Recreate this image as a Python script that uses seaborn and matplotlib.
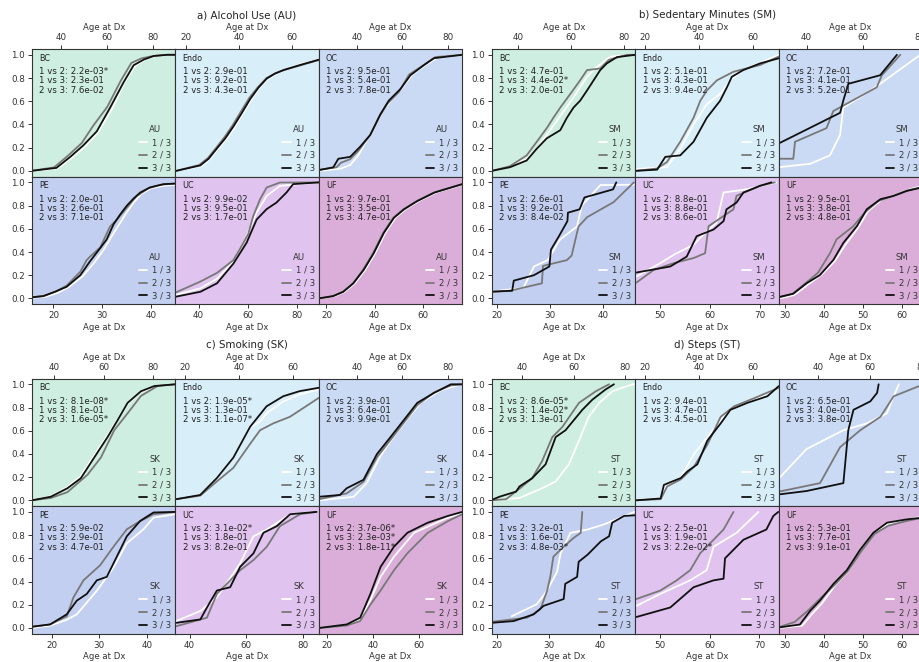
import matplotlib
matplotlib.use("Agg")
import matplotlib.pyplot as plt
import pandas as pd
import seaborn as sns
from matplotlib.ticker import MultipleLocator

sns.set_style("ticks")
plt.rcParams["font.family"] = ["DejaVu Sans"]

CANCERS = ["BC", "Endo", "OC", "PE", "UC", "UF"]
LEVELS = ["1 / 3", "2 / 3", "3 / 3"]
FACTOR_CODES = ["AU", "SM", "SK", "ST"]
FACTOR_TITLES = ["a) Alcohol Use (AU)", "b) Sedentary Minutes (SM)",
                 "c) Smoking (SK)", "d) Steps (ST)"]
COMPARISONS = ["1 vs 2", "1 vs 3", "2 vs 3"]

# pairwise test p-values, one row per cancer in CANCERS order
AU_PVALS = [["2.2e-03*", "2.3e-01", "7.6e-02"], ["2.9e-01", "9.2e-01", "4.3e-01"],
            ["9.5e-01", "5.4e-01", "7.8e-01"], ["2.0e-01", "2.6e-01", "7.1e-01"],
            ["9.9e-02", "9.5e-01", "1.7e-01"], ["9.7e-01", "3.5e-01", "4.7e-01"]]
SM_PVALS = [["4.7e-01", "4.4e-02*", "2.0e-01"], ["5.1e-01", "4.3e-01", "9.4e-02"],
            ["7.2e-01", "4.1e-01", "5.2e-01"], ["2.6e-01", "9.2e-01", "8.4e-02"],
            ["8.8e-01", "8.8e-01", "8.6e-01"], ["9.5e-01", "3.8e-01", "4.8e-01"]]
SK_PVALS = [["8.1e-08*", "8.1e-01", "1.6e-05*"], ["1.9e-05*", "1.3e-01", "1.1e-07*"],
            ["3.9e-01", "6.4e-01", "9.9e-01"], ["5.9e-02", "2.9e-01", "4.7e-01"],
            ["3.1e-02*", "1.8e-01", "8.2e-01"], ["3.7e-06*", "2.3e-03*", "1.8e-11*"]]
ST_PVALS = [["8.6e-05*", "1.4e-02*", "1.3e-01"], ["9.4e-01", "4.7e-01", "4.5e-01"],
            ["6.5e-01", "4.0e-01", "3.8e-01"], ["3.2e-01", "1.6e-01", "4.8e-03*"],
            ["2.5e-01", "1.9e-01", "2.2e-02*"], ["5.3e-01", "7.7e-01", "9.1e-01"]]

# cumulative distributions of age at diagnosis: [tertile 1, tertile 2, tertile 3]
AU_BC_AGE = [[27.4, 38.5, 44.5, 50.5, 56.0, 62.0, 67.5, 72.0, 76.5, 81.0, 87.0, 90.0],
             [27.4, 37.0, 43.0, 49.0, 54.0, 60.0, 66.0, 70.5, 75.0, 80.0, 86.0, 90.0],
             [27.4, 38.0, 44.0, 49.7, 55.5, 61.3, 67.2, 71.5, 76.0, 80.3, 86.0, 90.0]]
AU_BC_CDF = [[0.0, 0.02, 0.11, 0.21, 0.33, 0.53, 0.76, 0.90, 0.96, 0.99, 1.0, 1.0],
             [0.0, 0.03, 0.13, 0.24, 0.39, 0.55, 0.78, 0.93, 0.97, 0.99, 1.0, 1.0],
             [0.0, 0.025, 0.12, 0.22, 0.34, 0.545, 0.765, 0.91, 0.96, 0.99, 1.0, 1.0]]
AU_ENDO_AGE = [[16.4, 25.8, 29.0, 32.0, 35.2, 38.4, 41.5, 44.6, 47.7, 50.9, 54.0, 57.0, 63.0, 70.3],
               [16.4, 25.0, 28.3, 31.5, 34.6, 37.6, 40.8, 44.0, 47.2, 50.5, 53.8, 57.2, 63.5, 70.3],
               [16.4, 25.4, 28.6, 31.7, 34.9, 38.0, 41.2, 44.3, 47.4, 50.6, 53.7, 56.9, 63.2, 70.3]]
AU_ENDO_CDF = [[0.0, 0.04, 0.10, 0.185, 0.27, 0.375, 0.49, 0.61, 0.71, 0.79, 0.835, 0.868, 0.915, 0.96],
               [0.0, 0.05, 0.11, 0.20, 0.29, 0.39, 0.51, 0.63, 0.72, 0.80, 0.84, 0.87, 0.91, 0.955],
               [0.0, 0.046, 0.104, 0.192, 0.28, 0.383, 0.50, 0.618, 0.715, 0.795, 0.838, 0.868, 0.912, 0.958]]
AU_OC_AGE = [[23.6, 33.0, 37.0, 40.5, 44.0, 48.0, 52.0, 56.0, 60.0, 64.5, 70.0, 76.0, 86.4],
             [23.6, 31.0, 33.0, 37.0, 41.0, 45.5, 50.0, 53.5, 58.5, 63.0, 68.5, 74.5, 86.4],
             [23.6, 29.6, 31.8, 37.0, 41.4, 45.9, 50.3, 54.0, 59.2, 63.6, 69.6, 74.0, 86.4]]
AU_OC_CDF = [[0.0, 0.02, 0.05, 0.13, 0.25, 0.40, 0.53, 0.63, 0.72, 0.83, 0.91, 0.98, 1.0],
             [0.01, 0.03, 0.07, 0.10, 0.18, 0.30, 0.47, 0.58, 0.68, 0.83, 0.90, 0.98, 1.0],
             [0.007, 0.03, 0.104, 0.12, 0.207, 0.31, 0.486, 0.604, 0.706, 0.824, 0.912, 0.971, 1.0]]
AU_PE_AGE = [[15.5, 18.5, 21.0, 23.2, 26.0, 28.2, 30.3, 32.0, 33.5, 35.0, 36.5, 38.0, 40.0, 42.5, 45.0],
             [15.5, 18.0, 20.5, 22.7, 25.5, 26.8, 27.5, 29.6, 31.6, 33.0, 35.0, 37.0, 39.5, 42.0, 45.0],
             [15.5, 17.9, 20.3, 22.7, 25.5, 27.5, 29.6, 30.9, 32.3, 33.7, 35.0, 36.4, 37.8, 39.8, 42.6, 45.0]]
AU_PE_CDF = [[0.005, 0.015, 0.05, 0.10, 0.19, 0.30, 0.42, 0.54, 0.64, 0.74, 0.83, 0.90, 0.95, 0.97, 0.98],
             [0.01, 0.02, 0.06, 0.11, 0.23, 0.33, 0.36, 0.44, 0.62, 0.68, 0.78, 0.88, 0.95, 0.98, 0.99],
             [0.009, 0.02, 0.057, 0.10, 0.20, 0.32, 0.435, 0.507, 0.637, 0.725, 0.797, 0.86, 0.913, 0.957, 0.985, 0.99]]
AU_UC_AGE = [[30.5, 40.7, 47.5, 54.2, 59.6, 63.7, 67.8, 73.2, 89.1],
             [30.5, 40.7, 47.5, 54.2, 56.7, 60.3, 62.3, 65.1, 67.8, 73.2, 89.1],
             [30.5, 40.7, 47.5, 54.2, 59.6, 63.7, 67.8, 71.8, 75.9, 78.6, 89.1]]
AU_UC_CDF = [[0.029, 0.087, 0.17, 0.316, 0.536, 0.74, 0.884, 0.97, 1.0],
             [0.05, 0.145, 0.22, 0.33, 0.42, 0.557, 0.71, 0.855, 0.956, 0.999, 1.0],
             [0.014, 0.057, 0.13, 0.30, 0.48, 0.68, 0.77, 0.826, 0.913, 0.985, 1.0]]
AU_UF_AGE = [[16.8, 23.4, 27.6, 31.8, 36.1, 40.3, 44.5, 48.7, 52.9, 58.5, 65.6, 76.5],
             [16.8, 22.6, 26.8, 31.0, 35.2, 39.4, 43.6, 47.8, 52.0, 57.6, 64.8, 76.5],
             [16.8, 22.8, 27.0, 31.2, 35.5, 39.7, 43.9, 48.1, 52.3, 57.9, 65.0, 76.5]]
AU_UF_CDF = [[0.0, 0.02, 0.057, 0.13, 0.246, 0.39, 0.565, 0.695, 0.768, 0.84, 0.913, 0.98],
             [0.0, 0.02, 0.057, 0.13, 0.246, 0.39, 0.565, 0.695, 0.768, 0.84, 0.913, 0.985],
             [0.0, 0.02, 0.057, 0.13, 0.246, 0.39, 0.565, 0.695, 0.768, 0.84, 0.913, 0.985]]

SM_BC_AGE = [[30.0, 36.8, 43.1, 46.9, 50.7, 55.8, 60.8, 65.9, 69.7, 74.8, 84.2],
             [30.0, 36.8, 43.1, 46.9, 50.7, 53.2, 55.8, 59.6, 63.3, 65.9, 70.9, 74.1, 81.0, 84.2],
             [30.0, 36.8, 43.1, 46.9, 50.7, 55.8, 58.3, 60.8, 63.3, 65.9, 68.4, 70.9, 73.4, 77.2, 84.2]]
SM_BC_CDF = [[0.0, 0.04, 0.104, 0.19, 0.31, 0.472, 0.633, 0.81, 0.897, 0.985, 1.0],
             [0.0, 0.04, 0.133, 0.25, 0.368, 0.457, 0.545, 0.663, 0.78, 0.868, 0.882, 0.956, 1.0, 1.0],
             [0.0, 0.031, 0.089, 0.19, 0.28, 0.35, 0.457, 0.545, 0.604, 0.692, 0.78, 0.868, 0.926, 0.98, 1.0]]
SM_ENDO_AGE = [[17.0, 28.2, 33.1, 38.0, 42.9, 47.8, 51.5, 56.3, 69.4],
               [17.0, 24.6, 28.2, 33.1, 38.0, 40.5, 42.9, 46.6, 52.7, 62.5, 69.4],
               [17.0, 24.6, 27.6, 33.1, 38.0, 42.9, 47.8, 50.3, 52.1, 56.3, 62.5, 69.4]]
SM_ENDO_CDF = [[0.016, 0.031, 0.19, 0.398, 0.574, 0.663, 0.78, 0.868, 1.0],
               [0.0, 0.02, 0.075, 0.25, 0.457, 0.604, 0.692, 0.78, 0.854, 0.912, 0.985],
               [0.0, 0.01, 0.12, 0.133, 0.25, 0.457, 0.604, 0.72, 0.81, 0.868, 0.926, 0.97]]
SM_OC_AGE = [[30.2, 41.2, 48.2, 51.8, 52.9, 58.8, 65.9, 80.0],
             [30.2, 35.3, 35.9, 47.0, 49.4, 64.7, 66.5, 73.0],
             [30.2, 51.8, 52.9, 54.7, 65.9, 71.8]]
SM_OC_CDF = [[0.031, 0.06, 0.133, 0.31, 0.545, 0.633, 0.75, 1.0],
             [0.104, 0.104, 0.25, 0.368, 0.515, 0.72, 0.824, 1.0],
             [0.236, 0.50, 0.604, 0.75, 0.824, 1.0]]
SM_PE_AGE = [[19.1, 25.0, 27.0, 29.6, 31.9, 35.1, 36.0, 38.2, 39.5, 45.8],
             [19.1, 22.5, 28.5, 28.7, 33.2, 34.1, 34.8, 35.4, 37.0, 42.0, 45.8],
             [19.1, 22.9, 23.2, 27.0, 29.9, 30.2, 31.7, 33.3, 33.4, 35.6, 36.5, 41.9, 42.5]]
SM_PE_CDF = [[0.06, 0.09, 0.275, 0.33, 0.507, 0.62, 0.80, 0.91, 0.977, 0.98],
             [0.058, 0.066, 0.13, 0.28, 0.33, 0.37, 0.507, 0.62, 0.70, 0.83, 1.0],
             [0.058, 0.066, 0.153, 0.20, 0.275, 0.42, 0.536, 0.666, 0.739, 0.768, 0.87, 0.94, 1.0]]
SM_UC_AGE = [[45.2, 50.0, 52.7, 56.7, 59.0, 61.3, 62.7, 67.3, 73.3],
             [45.2, 48.7, 52.7, 56.7, 59.0, 59.7, 62.7, 64.7, 65.3, 70.0, 73.0],
             [45.2, 52.0, 55.3, 57.3, 60.7, 62.7, 63.3, 65.3, 66.7, 70.0, 72.3]]
SM_UC_CDF = [[0.188, 0.304, 0.376, 0.463, 0.565, 0.652, 0.913, 0.94, 0.999],
             [0.136, 0.246, 0.304, 0.348, 0.39, 0.623, 0.71, 0.768, 0.884, 0.97, 1.0],
             [0.223, 0.275, 0.36, 0.536, 0.594, 0.666, 0.768, 0.826, 0.913, 0.97, 1.0]]
SM_UF_AGE = [[28.8, 32.5, 36.0, 39.3, 42.8, 45.5, 48.8, 51.3, 54.8, 58.2, 61.5, 65.2],
             [28.8, 32.0, 35.3, 38.5, 41.6, 43.3, 47.5, 50.5, 54.0, 57.5, 61.3, 65.2],
             [28.8, 32.2, 35.6, 39.0, 42.5, 45.0, 48.5, 51.0, 54.5, 57.9, 61.3, 65.2]]
SM_UF_CDF = [[0.0, 0.03, 0.12, 0.20, 0.32, 0.46, 0.61, 0.75, 0.85, 0.89, 0.935, 0.97],
             [0.01, 0.04, 0.13, 0.22, 0.39, 0.51, 0.62, 0.74, 0.84, 0.88, 0.93, 0.96],
             [0.014, 0.04, 0.13, 0.20, 0.333, 0.478, 0.623, 0.768, 0.855, 0.884, 0.927, 0.957]]

SK_BC_AGE = [[31.1, 38.7, 45.4, 50.8, 56.2, 61.6, 65.7, 69.7, 75.1, 80.5, 89.0],
             [31.1, 38.7, 45.4, 53.5, 58.9, 64.3, 69.7, 75.1, 81.8, 89.0],
             [31.1, 38.7, 45.4, 50.8, 56.2, 61.6, 65.7, 69.7, 75.1, 80.5, 89.0]]
SK_BC_CDF = [[0.0, 0.035, 0.115, 0.21, 0.39, 0.56, 0.70, 0.83, 0.935, 0.98, 1.0],
             [0.0, 0.02, 0.07, 0.22, 0.368, 0.604, 0.75, 0.90, 0.985, 1.0],
             [0.0, 0.031, 0.104, 0.19, 0.368, 0.545, 0.692, 0.84, 0.94, 0.985, 1.0]]
SK_ENDO_AGE = [[16.7, 25.5, 31.7, 37.8, 44.0, 47.7, 50.1, 56.3, 62.4, 69.5],
               [16.7, 25.5, 31.7, 37.8, 44.0, 47.7, 52.6, 58.8, 69.5],
               [16.7, 25.5, 31.7, 37.8, 44.0, 50.1, 56.3, 62.4, 69.5]]
SK_ENDO_CDF = [[0.01, 0.046, 0.19, 0.37, 0.63, 0.677, 0.75, 0.853, 0.912, 0.956],
               [0.01, 0.04, 0.163, 0.28, 0.486, 0.604, 0.663, 0.72, 0.883],
               [0.01, 0.046, 0.192, 0.368, 0.633, 0.81, 0.897, 0.941, 0.97]]
SK_OC_AGE = [[23.6, 38.5, 44.4, 50.3, 56.3, 62.2, 68.1, 77.0, 85.9],
             [23.6, 35.5, 42.9, 48.8, 54.8, 60.7, 66.6, 74.0, 81.4, 86.4],
             [23.6, 32.5, 35.5, 42.9, 48.8, 54.8, 60.7, 66.6, 74.0, 81.4, 86.4]]
SK_OC_CDF = [[0.0, 0.03, 0.15, 0.38, 0.55, 0.70, 0.84, 0.95, 1.0],
             [0.01, 0.06, 0.16, 0.37, 0.52, 0.67, 0.82, 0.93, 0.99, 1.0],
             [0.031, 0.046, 0.104, 0.177, 0.398, 0.545, 0.692, 0.84, 0.926, 1.0, 1.0]]
SK_PE_AGE = [[15.9, 19.7, 23.2, 25.3, 29.5, 33.0, 35.8, 39.3, 41.4, 46.0],
             [15.9, 19.7, 23.2, 24.6, 26.7, 30.2, 33.0, 35.8, 38.6, 41.4, 46.0],
             [15.9, 19.7, 23.2, 25.3, 27.4, 29.5, 31.6, 33.7, 35.8, 38.6, 41.4, 46.0]]
SK_PE_CDF = [[0.0, 0.02, 0.07, 0.117, 0.32, 0.52, 0.73, 0.85, 0.95, 0.98],
             [0.01, 0.03, 0.10, 0.263, 0.41, 0.54, 0.70, 0.85, 0.92, 0.98, 1.0],
             [0.01, 0.03, 0.117, 0.235, 0.293, 0.41, 0.44, 0.614, 0.79, 0.922, 0.995, 1.0]]
SK_UC_AGE = [[35.4, 43.8, 49.6, 57.8, 62.5, 67.2, 75.4, 84.7],
             [35.4, 46.1, 49.6, 57.8, 62.5, 67.2, 71.8, 78.9, 84.7],
             [35.4, 43.8, 46.1, 49.6, 54.3, 57.8, 62.5, 66.0, 70.7, 75.4, 84.7]]
SK_UC_CDF = [[0.06, 0.146, 0.263, 0.556, 0.79, 0.848, 0.98, 1.0],
             [0.015, 0.088, 0.293, 0.497, 0.585, 0.70, 0.877, 0.98, 1.0],
             [0.044, 0.073, 0.176, 0.322, 0.351, 0.526, 0.643, 0.82, 0.877, 0.98, 1.0]]
SK_UF_AGE = [[17.0, 28.7, 34.5, 38.9, 43.3, 49.1, 57.8, 72.4, 78.6],
             [17.0, 28.7, 34.5, 38.9, 43.3, 49.1, 54.9, 63.7, 72.4, 78.6],
             [17.0, 28.7, 34.5, 38.9, 43.3, 49.1, 54.9, 63.7, 72.4, 78.6]]
SK_UF_CDF = [[0.0, 0.025, 0.07, 0.24, 0.44, 0.614, 0.82, 0.95, 0.99],
             [0.0, 0.02, 0.06, 0.20, 0.322, 0.497, 0.643, 0.82, 0.92, 0.98],
             [0.0, 0.03, 0.088, 0.293, 0.526, 0.70, 0.82, 0.907, 0.965, 1.0]]

ST_BC_AGE = [[28.6, 39.1, 47.9, 53.1, 58.2, 62.1, 65.9, 69.9, 75.0, 82.7, 83.9],
             [28.6, 34.0, 39.1, 44.0, 47.9, 51.8, 55.7, 62.1, 68.6, 73.7],
             [28.6, 31.4, 37.8, 39.1, 44.0, 49.2, 53.1, 56.9, 63.4, 67.3, 72.4, 75.6]]
ST_BC_CDF = [[0.0, 0.02, 0.104, 0.163, 0.31, 0.515, 0.72, 0.84, 0.94, 1.0, 1.0],
             [0.0, 0.01, 0.10, 0.19, 0.34, 0.545, 0.633, 0.84, 0.94, 1.0],
             [0.005, 0.031, 0.075, 0.119, 0.19, 0.31, 0.545, 0.604, 0.78, 0.868, 0.956, 1.0]]
ST_ENDO_AGE = [[17.0, 25.9, 27.7, 33.3, 38.2, 43.1, 48.0, 52.9, 60.3, 69.4],
               [17.0, 25.9, 28.3, 33.3, 38.2, 43.1, 48.0, 52.9, 60.3, 69.4],
               [17.0, 25.9, 27.1, 33.3, 35.8, 39.4, 43.1, 48.0, 51.6, 57.8, 65.2, 69.4]]
ST_ENDO_CDF = [[0.0, 0.02, 0.12, 0.20, 0.40, 0.545, 0.69, 0.80, 0.87, 0.97],
               [0.0, 0.01, 0.12, 0.18, 0.29, 0.48, 0.72, 0.81, 0.88, 0.97],
               [0.0, 0.016, 0.133, 0.192, 0.25, 0.31, 0.515, 0.663, 0.78, 0.84, 0.897, 0.985]]
ST_OC_AGE = [[24.9, 35.5, 49.7, 58.8, 66.5, 69.1, 71.1],
             [24.9, 40.7, 48.4, 56.2, 64.0, 69.1, 79.5, 80.1],
             [24.9, 35.5, 49.7, 51.6, 53.6, 60.1, 62.7, 63.3]]
ST_OC_CDF = [[0.19, 0.442, 0.604, 0.663, 0.75, 0.897, 1.0],
             [0.075, 0.148, 0.457, 0.604, 0.72, 0.897, 0.99, 1.0],
             [0.051, 0.08, 0.148, 0.604, 0.78, 0.853, 0.926, 1.0]]
ST_PE_AGE = [[22.8, 27.7, 29.7, 31.6, 32.3, 34.2, 37.5, 40.7, 46.6],
             [19.0, 25.8, 28.4, 29.7, 30.3, 30.9, 32.9, 34.8, 36.2, 36.5],
             [19.0, 23.2, 27.1, 29.0, 32.9, 33.2, 35.5, 35.8, 37.5, 40.1, 41.7, 42.3, 44.6, 46.8]]
ST_PE_CDF = [[0.10, 0.205, 0.322, 0.483, 0.643, 0.819, 0.848, 0.892, 1.0],
             [0.053, 0.088, 0.161, 0.322, 0.44, 0.614, 0.70, 0.775, 0.819, 1.0],
             [0.044, 0.059, 0.117, 0.19, 0.249, 0.38, 0.44, 0.57, 0.63, 0.746, 0.79, 0.907, 0.965, 0.971]]
ST_UC_AGE = [[45.3, 50.1, 56.1, 59.4, 60.8, 65.4, 69.8],
             [45.3, 50.1, 53.4, 56.1, 58.1, 60.8, 62.8, 64.8],
             [45.3, 52.1, 56.8, 60.8, 62.8, 63.1, 66.8, 71.4, 72.8, 73.8]]
ST_UC_CDF = [[0.19, 0.293, 0.41, 0.497, 0.70, 0.819, 1.0],
             [0.249, 0.322, 0.41, 0.497, 0.643, 0.76, 0.848, 1.0],
             [0.094, 0.176, 0.351, 0.41, 0.424, 0.60, 0.76, 0.848, 0.965, 1.0]]
ST_UF_AGE = [[28.8, 34.5, 37.0, 39.5, 43.0, 46.3, 49.6, 53.0, 56.5, 61.5, 65.2],
             [28.8, 32.5, 36.0, 39.0, 42.8, 46.2, 49.6, 53.0, 56.5, 61.0, 65.2],
             [28.8, 33.9, 36.5, 39.0, 42.5, 45.9, 49.3, 52.7, 56.2, 61.3, 65.2]]
ST_UF_CDF = [[0.0, 0.02, 0.12, 0.21, 0.37, 0.49, 0.68, 0.82, 0.90, 0.935, 0.96],
             [0.01, 0.05, 0.15, 0.25, 0.37, 0.49, 0.66, 0.81, 0.88, 0.92, 0.95],
             [0.005, 0.029, 0.146, 0.234, 0.38, 0.497, 0.673, 0.82, 0.907, 0.936, 0.95]]

# visible age range of every subplot, CANCERS order
XLIMS = {
    "AU": [(27.4, 89.6), (16.0, 70.3), (23.2, 86.4), (15.6, 45.0), (30.5, 89.1), (16.8, 76.5)],
    "SM": [(30.0, 84.2), (16.6, 69.4), (30.2, 80.7), (19.1, 46.1), (45.0, 73.8), (28.5, 65.2)],
    "SK": [(31.1, 89.0), (16.3, 69.5), (23.2, 86.4), (15.9, 46.0), (35.0, 85.5), (16.6, 78.6)],
    "ST": [(28.5, 83.9), (16.6, 69.4), (24.8, 80.1), (19.0, 46.8), (45.1, 73.9), (28.5, 65.2)],
}

FACE = {"BC": "#cdeee0", "Endo": "#d8eef9", "OC": "#cadaf4",
        "PE": "#c2cff0", "UC": "#e0c3ef", "UF": "#dbaed9"}
PALETTE = {"1 / 3": "#ffffff", "2 / 3": "#787878", "3 / 3": "#101010"}
INK = "#333333"

FIG_W, FIG_H = 920, 662
fig = plt.figure(figsize=(FIG_W / 100, FIG_H / 100), dpi=100)

PANEL_LEFT = [32, 492, 32, 492]
PANEL_TOP = [49, 49, 378.5, 378.5]
COL_W = 143.4
ROW_H = 127.6


def add_ax(left_px, top_px):
    return fig.add_axes([left_px / FIG_W, 1 - (top_px + ROW_H) / FIG_H,
                         COL_W / FIG_W, ROW_H / FIG_H])


for f, code in enumerate(FACTOR_CODES):
    pvals = globals()[f"{code}_PVALS"]
    for k, cancer in enumerate(CANCERS):
        row, col = divmod(k, 3)
        ax = add_ax(PANEL_LEFT[f] + col * COL_W, PANEL_TOP[f] + row * ROW_H)
        ax.set_facecolor(FACE[cancer])

        ages = globals()[f"{code}_{cancer.upper()}_AGE"]
        cdfs = globals()[f"{code}_{cancer.upper()}_CDF"]
        frames = []
        for lvl, a, c in zip(LEVELS, ages, cdfs):
            frames.append(pd.DataFrame({"Age at Dx": a, "cdf": c, code: lvl}))
        df = pd.concat(frames, ignore_index=True)

        sns.lineplot(data=df, x="Age at Dx", y="cdf", hue=code, hue_order=LEVELS,
                     palette=PALETTE, estimator=None, sort=False, linewidth=1.3,
                     ax=ax)

        ax.set_xlim(*XLIMS[code][k])
        ax.set_ylim(-0.05, 1.05)
        lo, hi = XLIMS[code][k]
        ax.xaxis.set_major_locator(MultipleLocator(10 if hi - lo < 40 else 20))
        ax.set_ylabel("")
        ax.set_xlabel("Age at Dx", fontsize=6.1, color=INK, labelpad=2)
        if row == 0:
            ax.xaxis.tick_top()
            ax.xaxis.set_label_position("top")
        if col == 0:
            ax.set_yticks([0, 0.2, 0.4, 0.6, 0.8, 1.0])
            ax.set_yticklabels(["0.0", "0.2", "0.4", "0.6", "0.8", "1.0"])
        else:
            ax.tick_params(axis="y", left=False, labelleft=False)
        ax.tick_params(labelsize=6.3, colors=INK, length=3, width=0.7, pad=2)
        for sp in ax.spines.values():
            sp.set_visible(True)
            sp.set_color(INK)
            sp.set_linewidth(0.8)

        ax.text(0.05, 0.927, cancer, transform=ax.transAxes, fontsize=5.8,
                color="#222222", va="center", ha="left")
        for j, (cmp_lbl, pv) in enumerate(zip(COMPARISONS, pvals[k])):
            ax.text(0.05, 0.822 - j * 0.072, f"{cmp_lbl}: {pv}",
                    transform=ax.transAxes, fontsize=6.2, color="#222222",
                    va="center", ha="left")

        sns.move_legend(ax, "lower right", frameon=False, fontsize=6.1,
                        title_fontsize=6.1, handlelength=1.0, handletextpad=0.6,
                        labelspacing=0.45, borderaxespad=0.25, borderpad=0.2)
        leg = ax.get_legend()
        for t in leg.get_texts():
            t.set_color(INK)
        leg.get_title().set_color(INK)

    cx = (PANEL_LEFT[f] + 1.5 * COL_W) / FIG_W
    ty = 1 - (PANEL_TOP[f] - 34) / FIG_H
    fig.text(cx, ty, FACTOR_TITLES[f], ha="center", va="center",
             fontsize=7.4, color="#222222")

fig.savefig("out.png", dpi=100, facecolor="white")
